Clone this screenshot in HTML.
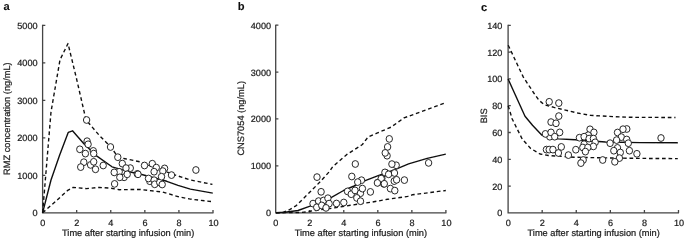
<!DOCTYPE html>
<html><head><meta charset="utf-8"><title>figure</title>
<style>
html,body{margin:0;padding:0;background:#fff;}
body{width:685px;height:242px;overflow:hidden;font-family:"Liberation Sans",sans-serif;}
svg{display:block;}
text{text-rendering:geometricPrecision;stroke:#222;stroke-width:0.22px;font-family:"Liberation Sans",sans-serif;fill:#1a1a1a;}
.tk{font-size:9.1px;}
.tt{font-size:9.25px;}
.lt{font-size:11.1px;font-weight:bold;fill:#111;stroke-width:0.1px;}
.ax{stroke:#444;stroke-width:1.3;fill:none;stroke-linecap:butt;}
.sl{stroke:#111;stroke-width:1.4;fill:none;stroke-linejoin:round;}
.dl{stroke:#111;stroke-width:1.38;fill:none;stroke-dasharray:3.7 2.8;stroke-linejoin:round;}
.c{fill:#fff;stroke:#1c1c1c;stroke-width:0.95;}
</style></head><body>
<svg width="685" height="242" viewBox="0 0 685 242">
<defs><filter id="soft" x="0" y="0" width="685" height="242" filterUnits="userSpaceOnUse"><feGaussianBlur stdDeviation="0.4"/></filter></defs>
<rect width="685" height="242" fill="#fff"/>
<g filter="url(#soft)">
<g>
<path class="ax" d="M42.6 24.8V212.8H213.5"/>
<path class="ax" d="M42.6 175.30h2.7M42.6 137.80h2.7M42.6 100.30h2.7M42.6 62.80h2.7M42.6 25.30h2.7M76.68 212.8v-2.8M110.76 212.8v-2.8M144.84 212.8v-2.8M178.92 212.8v-2.8M213.00 212.8v-2.8"/>
<text class="tk" x="37.50" y="216.25" text-anchor="end">0</text>
<text class="tk" x="37.50" y="178.75" text-anchor="end">1000</text>
<text class="tk" x="37.50" y="141.25" text-anchor="end">2000</text>
<text class="tk" x="37.50" y="103.75" text-anchor="end">3000</text>
<text class="tk" x="37.50" y="66.25" text-anchor="end">4000</text>
<text class="tk" x="37.50" y="28.75" text-anchor="end">5000</text>
<text class="tk" x="42.70" y="225.8" text-anchor="middle">0</text>
<text class="tk" x="76.78" y="225.8" text-anchor="middle">2</text>
<text class="tk" x="110.86" y="225.8" text-anchor="middle">4</text>
<text class="tk" x="144.94" y="225.8" text-anchor="middle">6</text>
<text class="tk" x="179.02" y="225.8" text-anchor="middle">8</text>
<text class="tk" x="213.50" y="225.8" text-anchor="middle">10</text>
<text class="tt" x="128.2" y="236.45" text-anchor="middle">Time after starting infusion (min)</text>
<text class="tt" transform="translate(10.3 118.6) rotate(-90)" text-anchor="middle">RMZ concentration (ng/mL)</text>
<text class="lt" x="3.5" y="10.05">a</text>
<polyline class="dl" points="42.6,212.8 51.0,112.0 60.0,59.8 68.0,43.5 76.6,79.0 85.1,116.0 86.1,120.0 99.8,136.0 110.9,147.0 118.3,157.5 125.0,158.7 141.1,162.0 145.0,164.0 171.4,173.6 178.0,176.0 190.4,180.0 212.4,184.4"/>
<polyline class="dl" points="42.6,212.8 56.5,200.6 67.3,190.7 73.1,187.4 86.3,188.6 99.5,187.4 111.0,188.2 119.3,189.7 140.0,189.4 162.8,192.1 178.0,196.6 190.4,199.1 212.4,201.7"/>
<polyline class="sl" points="42.6,212.8 51.0,180.0 59.5,155.5 68.3,132.3 72.5,130.8 83.9,143.7 96.2,155.6 112.0,166.8 131.5,172.3 142.7,174.8 166.8,181.3 178.0,185.3 190.4,189.1 212.8,193.1"/>
<ellipse class="c" cx="86.6" cy="120.0" rx="3.2" ry="3.4"/>
<ellipse class="c" cx="87.1" cy="141.2" rx="3.2" ry="3.4"/>
<ellipse class="c" cx="88.1" cy="144.3" rx="3.2" ry="3.4"/>
<ellipse class="c" cx="79.8" cy="149.3" rx="3.2" ry="3.4"/>
<ellipse class="c" cx="85.4" cy="153.6" rx="3.2" ry="3.4"/>
<ellipse class="c" cx="93.3" cy="150.9" rx="3.2" ry="3.4"/>
<ellipse class="c" cx="93.7" cy="153.6" rx="3.2" ry="3.4"/>
<ellipse class="c" cx="110.5" cy="147.0" rx="3.2" ry="3.4"/>
<ellipse class="c" cx="83.8" cy="162.2" rx="3.2" ry="3.4"/>
<ellipse class="c" cx="80.7" cy="167.1" rx="3.2" ry="3.4"/>
<ellipse class="c" cx="90.6" cy="164.9" rx="3.2" ry="3.4"/>
<ellipse class="c" cx="93.7" cy="161.8" rx="3.2" ry="3.4"/>
<ellipse class="c" cx="95.5" cy="169.3" rx="3.2" ry="3.4"/>
<ellipse class="c" cx="103.2" cy="165.5" rx="3.2" ry="3.4"/>
<ellipse class="c" cx="117.8" cy="157.2" rx="3.2" ry="3.4"/>
<ellipse class="c" cx="122.3" cy="163.6" rx="3.2" ry="3.4"/>
<ellipse class="c" cx="130.3" cy="168.1" rx="3.2" ry="3.4"/>
<ellipse class="c" cx="126.0" cy="168.1" rx="3.2" ry="3.4"/>
<ellipse class="c" cx="119.2" cy="171.8" rx="3.2" ry="3.4"/>
<ellipse class="c" cx="114.2" cy="172.4" rx="3.2" ry="3.4"/>
<ellipse class="c" cx="124.1" cy="177.3" rx="3.2" ry="3.4"/>
<ellipse class="c" cx="127.2" cy="174.3" rx="3.2" ry="3.4"/>
<ellipse class="c" cx="119.8" cy="177.3" rx="3.2" ry="3.4"/>
<ellipse class="c" cx="137.3" cy="173.9" rx="3.2" ry="3.4"/>
<ellipse class="c" cx="114.6" cy="183.9" rx="3.2" ry="3.4"/>
<ellipse class="c" cx="144.5" cy="165.5" rx="3.2" ry="3.4"/>
<ellipse class="c" cx="138.0" cy="174.3" rx="3.2" ry="3.4"/>
<ellipse class="c" cx="152.3" cy="163.7" rx="3.2" ry="3.4"/>
<ellipse class="c" cx="156.3" cy="167.6" rx="3.2" ry="3.4"/>
<ellipse class="c" cx="164.6" cy="168.4" rx="3.2" ry="3.4"/>
<ellipse class="c" cx="154.1" cy="171.7" rx="3.2" ry="3.4"/>
<ellipse class="c" cx="162.8" cy="171.1" rx="3.2" ry="3.4"/>
<ellipse class="c" cx="149.8" cy="181.2" rx="3.2" ry="3.4"/>
<ellipse class="c" cx="148.5" cy="178.5" rx="3.2" ry="3.4"/>
<ellipse class="c" cx="154.1" cy="180.2" rx="3.2" ry="3.4"/>
<ellipse class="c" cx="154.7" cy="184.3" rx="3.2" ry="3.4"/>
<ellipse class="c" cx="159.7" cy="182.4" rx="3.2" ry="3.4"/>
<ellipse class="c" cx="162.2" cy="184.5" rx="3.2" ry="3.4"/>
<ellipse class="c" cx="161.5" cy="176.7" rx="3.2" ry="3.4"/>
<ellipse class="c" cx="171.5" cy="175.1" rx="3.2" ry="3.4"/>
<ellipse class="c" cx="195.9" cy="170.0" rx="3.2" ry="3.4"/>
</g>
<g>
<path class="ax" d="M275.7 24.7V212.8H446.4"/>
<path class="ax" d="M275.7 165.86h2.7M275.7 118.97h2.7M275.7 72.09h2.7M275.7 25.20h2.7M309.74 212.8v-2.8M343.78 212.8v-2.8M377.82 212.8v-2.8M411.86 212.8v-2.8M445.90 212.8v-2.8"/>
<text class="tk" x="271.00" y="216.20" text-anchor="end">0</text>
<text class="tk" x="271.00" y="169.31" text-anchor="end">1000</text>
<text class="tk" x="271.00" y="122.42" text-anchor="end">2000</text>
<text class="tk" x="271.00" y="75.54" text-anchor="end">3000</text>
<text class="tk" x="271.00" y="28.65" text-anchor="end">4000</text>
<text class="tk" x="275.80" y="225.8" text-anchor="middle">0</text>
<text class="tk" x="309.84" y="225.8" text-anchor="middle">2</text>
<text class="tk" x="343.88" y="225.8" text-anchor="middle">4</text>
<text class="tk" x="377.92" y="225.8" text-anchor="middle">6</text>
<text class="tk" x="411.96" y="225.8" text-anchor="middle">8</text>
<text class="tk" x="446.40" y="225.8" text-anchor="middle">10</text>
<text class="tt" x="360.9" y="236.45" text-anchor="middle">Time after starting infusion (min)</text>
<text class="tt" transform="translate(243.9 118.3) rotate(-90)" text-anchor="middle">CNS7054 (ng/mL)</text>
<text class="lt" x="237.8" y="10.30">b</text>
<polyline class="dl" points="276.0,212.8 283.0,212.4 289.0,210.0 296.2,205.6 309.2,192.8 320.3,181.6 329.6,171.4 332.6,166.8 346.6,154.7 362.4,144.5 368.0,137.1 376.3,133.4 391.0,127.2 404.0,117.9 414.2,114.2 445.8,102.6"/>
<polyline class="dl" points="276.0,212.8 300.0,212.5 306.2,212.0 310.0,211.2 320.0,209.8 331.7,208.3 350.3,205.3 371.9,202.1 387.5,199.3 407.8,196.4 412.3,194.8 445.8,190.5"/>
<polyline class="sl" points="276.0,212.8 285.0,212.3 298.0,210.5 308.7,206.6 320.0,202.6 330.6,197.9 343.6,190.5 354.1,186.0 365.2,180.6 378.2,175.6 395.5,169.3 408.6,163.9 427.2,158.4 445.8,154.1"/>
<ellipse class="c" cx="317.0" cy="177.1" rx="3.2" ry="3.4"/>
<ellipse class="c" cx="321.1" cy="191.8" rx="3.2" ry="3.4"/>
<ellipse class="c" cx="313.0" cy="203.6" rx="3.2" ry="3.4"/>
<ellipse class="c" cx="318.6" cy="201.1" rx="3.2" ry="3.4"/>
<ellipse class="c" cx="323.5" cy="200.5" rx="3.2" ry="3.4"/>
<ellipse class="c" cx="327.9" cy="198.2" rx="3.2" ry="3.4"/>
<ellipse class="c" cx="316.7" cy="207.3" rx="3.2" ry="3.4"/>
<ellipse class="c" cx="329.1" cy="203.6" rx="3.2" ry="3.4"/>
<ellipse class="c" cx="321.7" cy="205.4" rx="3.2" ry="3.4"/>
<ellipse class="c" cx="326.0" cy="207.9" rx="3.2" ry="3.4"/>
<ellipse class="c" cx="336.5" cy="203.5" rx="3.2" ry="3.4"/>
<ellipse class="c" cx="343.8" cy="202.5" rx="3.2" ry="3.4"/>
<ellipse class="c" cx="351.8" cy="176.5" rx="3.2" ry="3.4"/>
<ellipse class="c" cx="361.5" cy="180.2" rx="3.2" ry="3.4"/>
<ellipse class="c" cx="357.7" cy="182.1" rx="3.2" ry="3.4"/>
<ellipse class="c" cx="347.5" cy="191.4" rx="3.2" ry="3.4"/>
<ellipse class="c" cx="351.2" cy="194.2" rx="3.2" ry="3.4"/>
<ellipse class="c" cx="355.0" cy="190.4" rx="3.2" ry="3.4"/>
<ellipse class="c" cx="360.5" cy="193.2" rx="3.2" ry="3.4"/>
<ellipse class="c" cx="362.4" cy="188.6" rx="3.2" ry="3.4"/>
<ellipse class="c" cx="356.8" cy="197.9" rx="3.2" ry="3.4"/>
<ellipse class="c" cx="360.5" cy="201.2" rx="3.2" ry="3.4"/>
<ellipse class="c" cx="370.4" cy="191.9" rx="3.2" ry="3.4"/>
<ellipse class="c" cx="355.3" cy="164.0" rx="3.2" ry="3.4"/>
<ellipse class="c" cx="377.8" cy="182.6" rx="3.2" ry="3.4"/>
<ellipse class="c" cx="381.9" cy="178.4" rx="3.2" ry="3.4"/>
<ellipse class="c" cx="383.8" cy="183.9" rx="3.2" ry="3.4"/>
<ellipse class="c" cx="385.6" cy="172.8" rx="3.2" ry="3.4"/>
<ellipse class="c" cx="389.3" cy="138.9" rx="3.2" ry="3.4"/>
<ellipse class="c" cx="387.6" cy="146.9" rx="3.2" ry="3.4"/>
<ellipse class="c" cx="387.1" cy="155.7" rx="3.2" ry="3.4"/>
<ellipse class="c" cx="385.2" cy="152.9" rx="3.2" ry="3.4"/>
<ellipse class="c" cx="396.2" cy="165.3" rx="3.2" ry="3.4"/>
<ellipse class="c" cx="391.9" cy="164.1" rx="3.2" ry="3.4"/>
<ellipse class="c" cx="384.9" cy="172.4" rx="3.2" ry="3.4"/>
<ellipse class="c" cx="388.6" cy="174.3" rx="3.2" ry="3.4"/>
<ellipse class="c" cx="394.5" cy="173.0" rx="3.2" ry="3.4"/>
<ellipse class="c" cx="381.2" cy="178.6" rx="3.2" ry="3.4"/>
<ellipse class="c" cx="377.4" cy="182.9" rx="3.2" ry="3.4"/>
<ellipse class="c" cx="384.3" cy="183.8" rx="3.2" ry="3.4"/>
<ellipse class="c" cx="394.2" cy="181.1" rx="3.2" ry="3.4"/>
<ellipse class="c" cx="396.6" cy="179.8" rx="3.2" ry="3.4"/>
<ellipse class="c" cx="404.4" cy="180.1" rx="3.2" ry="3.4"/>
<ellipse class="c" cx="390.4" cy="188.6" rx="3.2" ry="3.4"/>
<ellipse class="c" cx="394.8" cy="190.6" rx="3.2" ry="3.4"/>
<ellipse class="c" cx="428.6" cy="162.9" rx="3.2" ry="3.4"/>
</g>
<g>
<path class="ax" d="M508.1 24.8V212.9H679.0"/>
<path class="ax" d="M508.1 186.10h2.7M508.1 159.30h2.7M508.1 132.50h2.7M508.1 105.70h2.7M508.1 78.90h2.7M508.1 52.10h2.7M508.1 25.30h2.7M542.18 212.9v-2.8M576.26 212.9v-2.8M610.34 212.9v-2.8M644.42 212.9v-2.8M678.50 212.9v-2.8"/>
<text class="tk" x="502.40" y="216.35" text-anchor="end">0</text>
<text class="tk" x="502.40" y="189.55" text-anchor="end">20</text>
<text class="tk" x="502.40" y="162.75" text-anchor="end">40</text>
<text class="tk" x="502.40" y="135.95" text-anchor="end">60</text>
<text class="tk" x="502.40" y="109.15" text-anchor="end">80</text>
<text class="tk" x="502.40" y="82.35" text-anchor="end">100</text>
<text class="tk" x="502.40" y="55.55" text-anchor="end">120</text>
<text class="tk" x="502.40" y="28.75" text-anchor="end">140</text>
<text class="tk" x="508.20" y="225.8" text-anchor="middle">0</text>
<text class="tk" x="542.28" y="225.8" text-anchor="middle">2</text>
<text class="tk" x="576.36" y="225.8" text-anchor="middle">4</text>
<text class="tk" x="610.44" y="225.8" text-anchor="middle">6</text>
<text class="tk" x="644.52" y="225.8" text-anchor="middle">8</text>
<text class="tk" x="679.00" y="225.8" text-anchor="middle">10</text>
<text class="tt" x="593.7" y="236.45" text-anchor="middle">Time after starting infusion (min)</text>
<text class="tt" transform="translate(486.7 115.9) rotate(-90)" text-anchor="middle">BIS</text>
<text class="lt" x="481.0" y="10.55">c</text>
<polyline class="dl" points="508.2,45.2 523.2,76.9 533.8,93.0 538.9,100.2 544.2,104.7 554.1,107.4 577.7,113.0 590.6,115.4 609.2,116.4 629.6,117.3 675.5,117.5"/>
<polyline class="dl" points="508.2,105.7 512.1,118.7 515.8,126.2 522.3,139.2 530.7,148.5 540.0,154.0 548.3,155.5 574.0,157.2 600.0,157.8 640.0,158.4 677.8,158.6"/>
<polyline class="sl" points="508.1,79.0 525.0,116.2 532.5,125.2 541.7,135.0 550.0,138.0 558.4,138.9 575.2,139.8 605.5,142.0 640.0,142.6 677.8,142.7"/>
<ellipse class="c" cx="549.2" cy="101.8" rx="3.2" ry="3.4"/>
<ellipse class="c" cx="558.8" cy="103.1" rx="3.2" ry="3.4"/>
<ellipse class="c" cx="558.8" cy="116.1" rx="3.2" ry="3.4"/>
<ellipse class="c" cx="551.0" cy="122.1" rx="3.2" ry="3.4"/>
<ellipse class="c" cx="556.0" cy="123.3" rx="3.2" ry="3.4"/>
<ellipse class="c" cx="549.8" cy="136.7" rx="3.2" ry="3.4"/>
<ellipse class="c" cx="545.4" cy="133.9" rx="3.2" ry="3.4"/>
<ellipse class="c" cx="551.0" cy="132.4" rx="3.2" ry="3.4"/>
<ellipse class="c" cx="559.7" cy="132.4" rx="3.2" ry="3.4"/>
<ellipse class="c" cx="554.7" cy="136.7" rx="3.2" ry="3.4"/>
<ellipse class="c" cx="546.4" cy="149.6" rx="3.2" ry="3.4"/>
<ellipse class="c" cx="549.2" cy="149.6" rx="3.2" ry="3.4"/>
<ellipse class="c" cx="552.9" cy="149.6" rx="3.2" ry="3.4"/>
<ellipse class="c" cx="561.3" cy="146.9" rx="3.2" ry="3.4"/>
<ellipse class="c" cx="558.4" cy="153.0" rx="3.2" ry="3.4"/>
<ellipse class="c" cx="568.4" cy="155.1" rx="3.2" ry="3.4"/>
<ellipse class="c" cx="575.8" cy="149.7" rx="3.2" ry="3.4"/>
<ellipse class="c" cx="590.0" cy="129.3" rx="3.2" ry="3.4"/>
<ellipse class="c" cx="593.9" cy="132.4" rx="3.2" ry="3.4"/>
<ellipse class="c" cx="588.2" cy="135.2" rx="3.2" ry="3.4"/>
<ellipse class="c" cx="579.4" cy="137.7" rx="3.2" ry="3.4"/>
<ellipse class="c" cx="584.1" cy="136.7" rx="3.2" ry="3.4"/>
<ellipse class="c" cx="589.1" cy="138.6" rx="3.2" ry="3.4"/>
<ellipse class="c" cx="593.4" cy="138.6" rx="3.2" ry="3.4"/>
<ellipse class="c" cx="595.2" cy="142.3" rx="3.2" ry="3.4"/>
<ellipse class="c" cx="584.1" cy="144.2" rx="3.2" ry="3.4"/>
<ellipse class="c" cx="593.4" cy="146.4" rx="3.2" ry="3.4"/>
<ellipse class="c" cx="582.8" cy="147.5" rx="3.2" ry="3.4"/>
<ellipse class="c" cx="587.8" cy="147.5" rx="3.2" ry="3.4"/>
<ellipse class="c" cx="585.4" cy="151.6" rx="3.2" ry="3.4"/>
<ellipse class="c" cx="583.2" cy="160.0" rx="3.2" ry="3.4"/>
<ellipse class="c" cx="580.9" cy="163.1" rx="3.2" ry="3.4"/>
<ellipse class="c" cx="602.7" cy="160.0" rx="3.2" ry="3.4"/>
<ellipse class="c" cx="610.1" cy="143.2" rx="3.2" ry="3.4"/>
<ellipse class="c" cx="617.5" cy="132.5" rx="3.2" ry="3.4"/>
<ellipse class="c" cx="626.8" cy="129.0" rx="3.2" ry="3.4"/>
<ellipse class="c" cx="623.0" cy="129.2" rx="3.2" ry="3.4"/>
<ellipse class="c" cx="621.3" cy="137.1" rx="3.2" ry="3.4"/>
<ellipse class="c" cx="616.6" cy="140.1" rx="3.2" ry="3.4"/>
<ellipse class="c" cx="626.7" cy="139.5" rx="3.2" ry="3.4"/>
<ellipse class="c" cx="628.3" cy="143.2" rx="3.2" ry="3.4"/>
<ellipse class="c" cx="617.5" cy="147.9" rx="3.2" ry="3.4"/>
<ellipse class="c" cx="613.8" cy="150.7" rx="3.2" ry="3.4"/>
<ellipse class="c" cx="620.3" cy="152.5" rx="3.2" ry="3.4"/>
<ellipse class="c" cx="629.4" cy="150.7" rx="3.2" ry="3.4"/>
<ellipse class="c" cx="619.4" cy="158.1" rx="3.2" ry="3.4"/>
<ellipse class="c" cx="614.8" cy="161.8" rx="3.2" ry="3.4"/>
<ellipse class="c" cx="636.9" cy="153.8" rx="3.2" ry="3.4"/>
<ellipse class="c" cx="661.0" cy="138.0" rx="3.2" ry="3.4"/>
</g>
</g></svg></body></html>
